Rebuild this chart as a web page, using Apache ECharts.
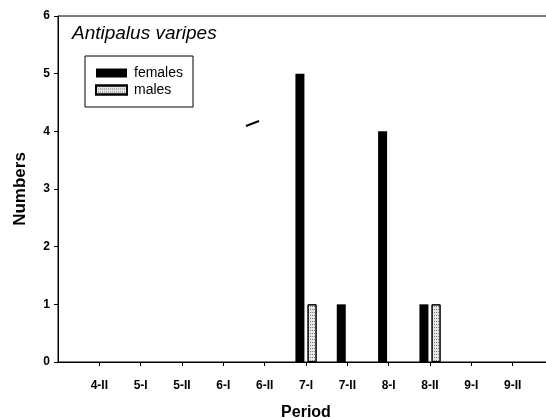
<!DOCTYPE html>
<html>
<head>
<meta charset="utf-8">
<script src="https://cdn.jsdelivr.net/npm/echarts@6/dist/echarts.min.js"></script>
<style>
  html, body { margin: 0; padding: 0; background: #fff; }
  #main { width: 546px; height: 418px; }
</style>
</head>
<body>
<div id="main"></div>
<script>
  // periods (first and last are only axis ends, unlabeled in the figure)
  var periods = ['4-I', '4-II', '5-I', '5-II', '6-I', '6-II', '7-I', '7-II', '8-I', '8-II', '9-I', '9-II', '10-I'];
  var females = [0, 0, 0, 0, 0, 0, 5, 1, 4, 1, 0, 0, 0];
  var males   = [0, 0, 0, 0, 0, 0, 1, 0, 0, 1, 0, 0, 0];
  var yTicks = [0, 1, 2, 3, 4, 5, 6];

  var font = '"Liberation Sans", Arial, Helvetica, sans-serif';
  var lastIdx = periods.length - 1;
  var inner = function (i) { return i > 0 && i < lastIdx; };
  // zero counts leave no bar
  var noZero = function (arr) { return arr.map(function (v) { return v === 0 ? '-' : v; }); };

  var chart = echarts.init(document.getElementById('main'));
  chart.setOption({
    animation: false,
    backgroundColor: '#fff',
    title: {
      text: 'Antipalus varipes',
      left: 72,
      top: 24,
      padding: 0,
      textStyle: { fontFamily: font, fontStyle: 'italic', fontWeight: 'normal', fontSize: 19, color: '#000' }
    },
    legend: {
      data: ['females', 'males'],
      orient: 'vertical',
      left: 85,
      top: 56,
      padding: [10, 10, 10, 10],
      itemWidth: 31,
      itemHeight: 9,
      itemGap: 3,
      borderColor: '#000',
      borderWidth: 1,
      icon: 'rect',
      textStyle: { fontFamily: font, fontSize: 14, color: '#000', padding: [0, 0, 0, 2] }
    },
    grid: {
      left: 58,
      width: 496,
      top: 16,
      bottom: 56,
      containLabel: false,
      outerBoundsMode: 'none',
      show: true,
      borderColor: '#000',
      borderWidth: 1
    },
    xAxis: {
      type: 'category',
      data: periods,
      boundaryGap: false,
      name: 'Period',
      nameLocation: 'middle',
      nameGap: 43,
      nameTextStyle: { fontFamily: font, fontWeight: 'bold', fontSize: 16, color: '#000' },
      axisLine: { lineStyle: { color: '#000', width: 1 } },
      axisTick: { length: 4, interval: function (i) { return inner(i); }, lineStyle: { color: '#000' } },
      axisLabel: {
        interval: function (i) { return inner(i); },
        margin: 18,
        fontFamily: font,
        fontWeight: 'bold',
        fontSize: 12,
        color: '#000'
      },
      splitLine: { show: false }
    },
    yAxis: {
      type: 'value',
      min: yTicks[0],
      max: yTicks[yTicks.length - 1],
      interval: 1,
      name: 'Numbers',
      nameLocation: 'middle',
      nameGap: 29,
      nameTextStyle: { fontFamily: font, fontWeight: 'bold', fontSize: 17, color: '#000' },
      axisLine: { show: true, lineStyle: { color: '#000', width: 1 } },
      axisTick: { show: true, length: 4, lineStyle: { color: '#000' } },
      axisLabel: { margin: 8, fontFamily: font, fontWeight: 'bold', fontSize: 12, color: '#000' },
      splitLine: { show: false }
    },
    series: [
      {
        name: 'females',
        type: 'bar',
        data: noZero(females),
        barWidth: 9,
        barGap: '35%',
        itemStyle: { color: '#000' }
      },
      {
        name: 'males',
        type: 'bar',
        data: noZero(males),
        barWidth: 9,
        itemStyle: {
          color: '#e6e6e6',
          borderColor: '#000',
          borderWidth: 1,
          decal: {
            symbol: 'rect',
            symbolSize: 1,
            color: 'rgba(0,0,0,0.45)',
            dashArrayX: [1, 1],
            dashArrayY: [1, 2],
            rotation: 0
          }
        }
      }
    ],
    graphic: [
      {
        type: 'line',
        shape: { x1: 246, y1: 126, x2: 259, y2: 121 },
        style: { stroke: '#000', lineWidth: 2 }
      }
    ]
  });
</script>
</body>
</html>
